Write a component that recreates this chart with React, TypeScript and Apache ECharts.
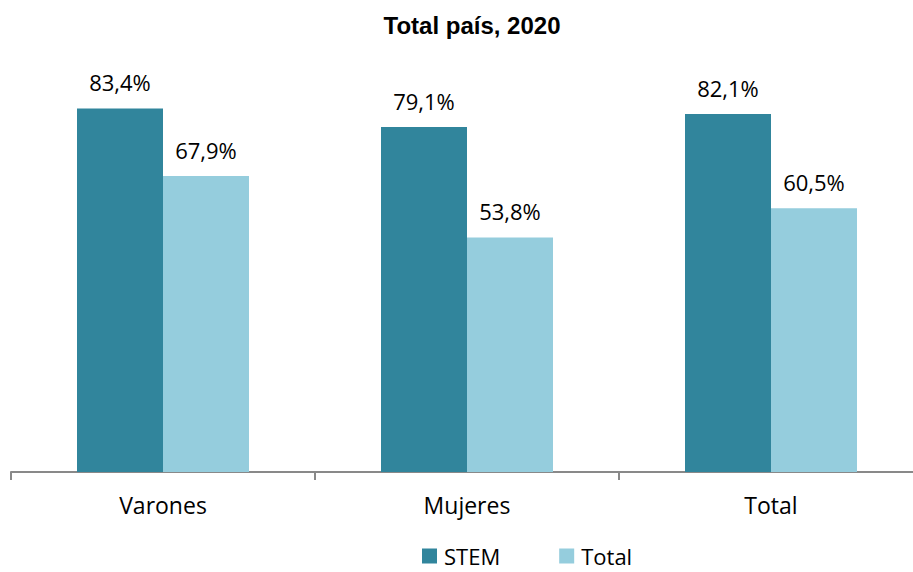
import React, { useEffect, useRef } from "react";
import * as echarts from "echarts";

const categories = ["Varones", "Mujeres", "Total"];
const stemValues = [83.4, 79.1, 82.1];
const totalValues = [67.9, 53.8, 60.5];
const seriesNames = ["STEM", "Total"];
const title = "Total país, 2020";

const FONT = "'Open Sans', 'Noto Sans', sans-serif";

export default function App() {
  const ref = useRef<HTMLDivElement>(null);
  useEffect(() => {
    if (!ref.current) return;
    const chart = echarts.init(ref.current, undefined, { renderer: "svg" });
    const label = {
      show: true,
      position: "top",
      distance: 15,
      color: "#000",
      fontFamily: FONT,
      fontSize: 22,
      formatter: (p: any) => p.value.toFixed(1).replace(".", ",") + "%",
    };
    chart.setOption({
      animation: false,
      backgroundColor: "#fff",
      title: {
        text: title,
        left: 467,
        textAlign: "center",
        top: 8,
        textStyle: { fontFamily: "Arial, 'Liberation Sans', sans-serif", fontWeight: "bold", fontSize: 24, color: "#000" },
      },
      legend: {
        top: 545,
        left: 422,
        padding: 0,
        itemWidth: 15,
        itemHeight: 15,
        itemGap: 59,
        icon: "rect",
        textStyle: { fontFamily: FONT, fontSize: 22, lineHeight: 20, color: "#000", padding: [0, 0, 0, 2] },
        data: seriesNames,
      },
      grid: { left: 11, right: -10, top: 36, bottom: 100, outerBoundsMode: "none", containLabel: false },
      xAxis: {
        type: "category",
        data: categories,
        axisLine: { show: true, lineStyle: { color: "#898989", width: 2 } },
        axisTick: { show: true, length: 8, lineStyle: { color: "#898989", width: 2 } },
        axisLabel: { fontFamily: FONT, fontSize: 23, color: "#000", margin: 21 },
      },
      yAxis: {
        type: "value",
        min: 0,
        max: 100,
        show: false,
        splitLine: { show: false },
      },
      series: [
        {
          name: seriesNames[0],
          type: "bar",
          data: stemValues,
          barWidth: 86,
          barGap: "0%",
          itemStyle: { color: "#31859C" },
          label,
        },
        {
          name: seriesNames[1],
          type: "bar",
          data: totalValues,
          barWidth: 86,
          barGap: "0%",
          itemStyle: { color: "#95CDDD" },
          label,
        },
      ],
    });
    return () => chart.dispose();
  }, []);
  return <div ref={ref} style={{ width: 913, height: 572, position: "absolute", left: 0, top: 0 }} />;
}
